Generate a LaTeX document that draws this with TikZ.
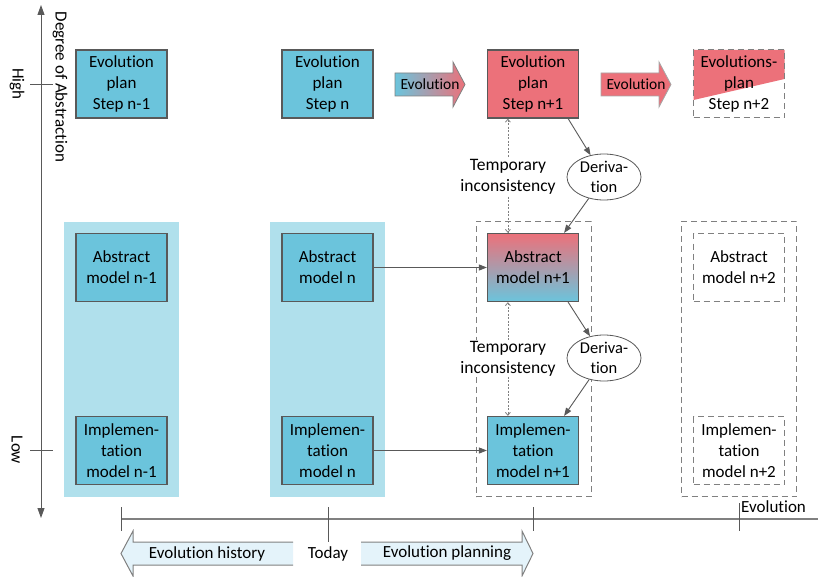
\documentclass[tikz,border=0pt]{standalone}
\usepackage{fontspec}
\setmainfont{Carlito}[Ligatures=NoCommon]
\usetikzlibrary{arrows.meta,shapes.geometric}
\definecolor{evoblue}{RGB}{107,196,220}
\definecolor{bgblue}{RGB}{176,224,236}
\definecolor{evored}{RGB}{236,113,122}
\definecolor{histfill}{RGB}{228,243,250}
\definecolor{linegray}{RGB}{89,89,89}

\begin{document}
\begin{tikzpicture}[x=1pt,y=-1pt,
		font=\fontsize{17}{21}\selectfont,
		box/.style={draw=linegray,line width=1.2pt,fill=evoblue,minimum width=91pt,minimum height=68pt,inner sep=0pt,align=center},
		planbox/.style={box,fill=evored},
		openbox/.style={box,fill=none,draw=gray,line width=1pt,dash pattern=on 6pt off 4pt},
		column/.style={minimum width=115pt,minimum height=275pt,inner sep=0pt},
		derivation/.style={ellipse,draw=linegray,fill=white,line width=0.8pt,minimum width=74pt,minimum height=46pt,inner sep=0pt,align=center,font=\fontsize{16.5}{20}\selectfont},
		conn/.style={-{Triangle[length=8pt,width=6pt]},draw=linegray,line width=0.9pt},
		incons/.style={{Straight Barb[length=3pt,width=5pt]}-{Straight Barb[length=3pt,width=5pt]},gray,line width=0.8pt,dash pattern=on 2pt off 1.5pt},
		tempnote/.style={fill=white,inner sep=1pt,align=center,font=\fontsize{17.5}{21}\selectfont},
		timearrow/.style={gray,line width=1pt}]
		\useasboundingbox (0,0) rectangle (818,577);
		
		\node[column,fill=bgblue] (colA) at (121.5,359.5) {};
		\node[column,fill=bgblue] (colB) at (327.5,359.5) {};
		\node[column,draw=gray,line width=1pt,dash pattern=on 6pt off 4pt] (colC) at (533.5,359) {};
		\node[column,draw=gray,line width=1pt,dash pattern=on 6pt off 4pt] (colD) at (739,359) {};
		
		\node[box] (planA) at (121.5,84) {Evolution\\plan\\Step n-1};
		\node[box] (planB) at (327.5,84) {Evolution\\plan\\Step n};
		\node[planbox] (planC) at (533,84) {Evolution\\plan\\Step n+1};
		\node[openbox,path picture={\fill[evored] (path picture bounding box.north west) -- (path picture bounding box.north east) -- ([yshift=-29pt]path picture bounding box.north east) -- ([yshift=18pt]path picture bounding box.south west) -- cycle;}] (planD) at (739,84) {Evolutions-\\plan\\Step n+2};
		
		\node[box] (absA) at (121.5,267.5) {Abstract\\model n-1};
		\node[box] (absB) at (327.5,267.5) {Abstract\\model n};
		\node[box,top color=evored,bottom color=evoblue] (absC) at (533,267.5) {Abstract\\model n+1};
		\node[openbox] (absD) at (739,267.5) {Abstract\\model n+2};
		
		\node[box] (implA) at (121.5,450.5) {Implemen-\\tation\\model n-1};
		\node[box] (implB) at (327.5,450.5) {Implemen-\\tation\\model n};
		\node[box] (implC) at (533,450.5) {Implemen-\\tation\\model n+1};
		\node[openbox] (implD) at (739,450.5) {Implemen-\\tation\\model n+2};
		
		\node[derivation] (derA) at (604,177) {Deriva-\\tion};
		\node[derivation] (derB) at (604,358) {Deriva-\\tion};
		
		\draw[conn] (absB) -- (absC);
		\draw[conn] (implB) -- (implC);
		\draw[conn] ([xshift=-11pt]planC.south east) -- (derA);
		\draw[conn] (derA) -- ([xshift=-15pt]absC.north east);
		\draw[conn] ([xshift=-11pt]absC.south east) -- (derB);
		\draw[conn] (derB) -- ([xshift=-15pt]implC.north east);
		
		\draw[incons] ([xshift=21pt]planC.south west) -- ([xshift=21pt]absC.north west);
		\draw[incons] ([xshift=21pt]absC.south west) -- ([xshift=21pt]implC.north west);
		\node[tempnote] (tempA) at (508,176.5) {Temporary\\inconsistency};
		\node[tempnote] (tempB) at (508,358.5) {Temporary\\inconsistency};
		
		\shade[left color=evoblue,right color=evored,draw=gray,line width=0.8pt] (395,73) -- (453,73) -- (453,62) -- (465,84.5) -- (453,107) -- (453,96) -- (395,96) -- cycle;
		\node[font=\fontsize{15.5}{19}\selectfont] (evoA) at (430,84.5) {Evolution};
		\filldraw[fill=evored,draw=gray!70,line width=0.8pt] (601,73) -- (659,73) -- (659,62) -- (671,84.5) -- (659,107) -- (659,96) -- (601,96) -- cycle;
		\node[font=\fontsize{15.5}{19}\selectfont] (evoB) at (636,84.5) {Evolution};
		
		\draw[{Triangle[length=10pt,width=7pt]}-{Triangle[length=10pt,width=7pt]},linegray,line width=0.9pt] (41,5) -- (41,518);
		\draw[linegray,line width=0.9pt] (30,84) -- (53,84);
		\draw[linegray,line width=0.9pt] (30,450) -- (53,450);
		\node[rotate=-90] (high) at (17,84) {High};
		\node[rotate=-90] (low) at (17,450) {Low};
		\node[rotate=-90] (degree) at (60,87) {Degree of Abstraction};
		
		\draw[gray,line width=1.5pt] (121,519) -- (818,519);
		\draw[linegray,line width=0.9pt] (121,507) -- (121,531);
		\draw[linegray,line width=0.9pt] (328,507) -- (328,542);
		\draw[linegray,line width=0.9pt] (533,507) -- (533,531);
		\draw[linegray,line width=0.9pt] (739,503) -- (739,531);
		\node[anchor=west,inner sep=1pt] (evoaxis) at (740,507) {Evolution};
		
		\fill[histfill] (293,542) -- (133,542) -- (133,531) -- (121,553.5) -- (133,576) -- (133,565) -- (293,565) -- cycle;
		\draw[timearrow] (293,542) -- (133,542) -- (133,531) -- (121,553.5) -- (133,576) -- (133,565) -- (293,565);
		\fill[histfill] (361,542) -- (522,542) -- (522,531) -- (533,553.5) -- (522,576) -- (522,565) -- (361,565) -- cycle;
		\draw[timearrow] (361,542) -- (522,542) -- (522,531) -- (533,553.5) -- (522,576) -- (522,565) -- (361,565);
		\node (history) at (207,553.5) {Evolution history};
		\node (today) at (328,553.5) {Today};
		\node (planning) at (447,553.5) {Evolution planning};
\end{tikzpicture}
\end{document}
